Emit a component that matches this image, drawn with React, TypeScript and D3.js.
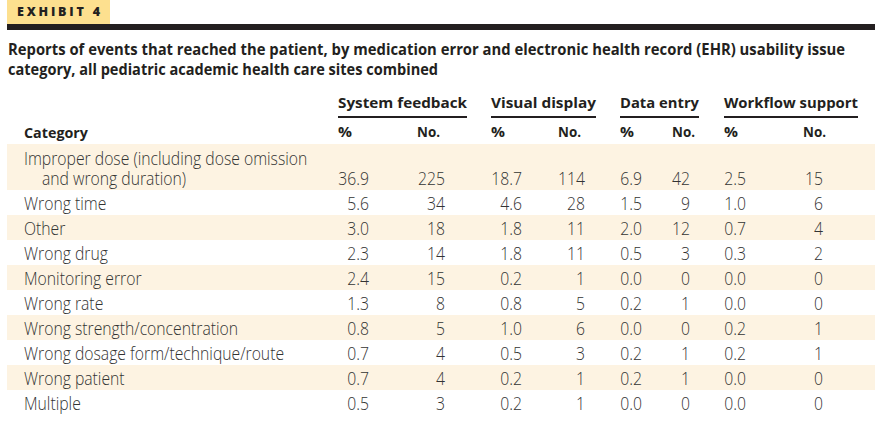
import React from "react";
import * as d3 from "d3";

const categories: string[][] = [
  ["Improper dose (including dose omission", "and wrong duration)"],
  ["Wrong time"],
  ["Other"],
  ["Wrong drug"],
  ["Monitoring error"],
  ["Wrong rate"],
  ["Wrong strength/concentration"],
  ["Wrong dosage form/technique/route"],
  ["Wrong patient"],
  ["Multiple"],
];
const groups = ["System feedback", "Visual display", "Data entry", "Workflow support"];
const sysPct = [36.9, 5.6, 3.0, 2.3, 2.4, 1.3, 0.8, 0.7, 0.7, 0.5];
const sysNo = [225, 34, 18, 14, 15, 8, 5, 4, 4, 3];
const visPct = [18.7, 4.6, 1.8, 1.8, 0.2, 0.8, 1.0, 0.5, 0.2, 0.2];
const visNo = [114, 28, 11, 11, 1, 5, 6, 3, 1, 1];
const dataPct = [6.9, 1.5, 2.0, 0.5, 0.0, 0.2, 0.0, 0.2, 0.2, 0.0];
const dataNo = [42, 9, 12, 3, 0, 1, 0, 1, 1, 0];
const wfPct = [2.5, 1.0, 0.7, 0.3, 0.0, 0.0, 0.2, 0.2, 0.0, 0.0];
const wfNo = [15, 6, 4, 2, 0, 0, 1, 1, 0, 0];

const titleLines = [
  "Reports of events that reached the patient, by medication error and electronic health record (EHR) usability issue",
  "category, all pediatric academic health care sites combined",
];

// layout (not data)
const W = 879, H = 430;
const groupLayout = [
  { x0: 338, x1: 467, pctX: 338, noX: 417, pctR: 369, noR: 445 },
  { x0: 491, x1: 596, pctX: 491, noX: 558, pctR: 522, noR: 585 },
  { x0: 620, x1: 699, pctX: 620, noX: 672, pctR: 642, noR: 690 },
  { x0: 724, x1: 858, pctX: 724, noX: 803, pctR: 746, noR: 823 },
];

const BODY = "'Open Sans', 'Lato', sans-serif";
const BOLD = "'Open Sans', sans-serif";
const SX = 0.9;

export default function App() {
  const pctSeries = [sysPct, visPct, dataPct, wfPct];
  const noSeries = [sysNo, visNo, dataNo, wfNo];
  const lineCounts = categories.map((c) => c.length);
  const rowUnits = lineCounts.map((n) => 25 + (n - 1) * 21);
  const bottoms = Array.from(d3.cumsum(rowUnits));
  const tops = bottoms.map((b, i) => b - rowUnits[i]);
  const total = d3.sum(rowUnits);
  const y = d3.scaleLinear().domain([0, total]).range([144, 144 + total]);
  const fmt = d3.format(".1f");
  const textColor = "#333333";

  const T = (x: number, yy: number, s: string, anchor: string = "start", key?: any) => (
    <text key={key} transform={`translate(${x},${yy}) scale(${SX},1)`} textAnchor={anchor}>
      {s}
    </text>
  );

  return (
    <svg width={W} height={H} style={{ display: "block", position: "absolute", left: 0, top: 0 }}>
      <rect x={0} y={0} width={W} height={H} fill="#fff" />
      <rect x={7} y={0} width={103} height={24} fill="#fde08f" />
      <text x={17} y={15.5} fontFamily={BOLD} fontWeight={800} fontSize={12.5} fill="#231f20" textLength={83} lengthAdjust="spacing">
        EXHIBIT 4
      </text>
      <rect x={7} y={24} width={868} height={6} fill="#231f20" />
      {titleLines.map((t, i) => (
        <text
          key={i}
          x={8}
          y={55 + i * 20}
          fontFamily={BOLD}
          fontWeight={700}
          fontSize={16.5}
          fill="#231f20"
          textLength={i === 0 ? 837 : 430}
          lengthAdjust="spacingAndGlyphs"
        >
          {t}
        </text>
      ))}
      {categories.map((_, i) =>
        i % 2 === 0 ? (
          <rect key={i} x={7} y={y(tops[i])} width={868} height={y(bottoms[i]) - y(tops[i])} fill="#fdf3e2" />
        ) : null
      )}
      {groups.map((g, gi) => {
        const L = groupLayout[gi];
        return (
          <g key={g}>
            <text x={L.x0} y={108} fontFamily={BOLD} fontWeight={700} fontSize={15} fill="#231f20" textLength={L.x1 - L.x0} lengthAdjust="spacingAndGlyphs">
              {g}
            </text>
            <line x1={L.x0} x2={L.x1} y1={117} y2={117} stroke="#231f20" strokeWidth={2} />
            <text x={L.pctX} y={137} fontFamily={BOLD} fontWeight={700} fontSize={14.5} fill="#231f20" textLength={14} lengthAdjust="spacingAndGlyphs">%</text>
            <text x={L.noX} y={137} fontFamily={BOLD} fontWeight={700} fontSize={14.5} fill="#231f20" textLength={23} lengthAdjust="spacingAndGlyphs">No.</text>
          </g>
        );
      })}
      <text x={24} y={138} fontFamily={BOLD} fontWeight={700} fontSize={15} fill="#231f20" textLength={64} lengthAdjust="spacingAndGlyphs">
        Category
      </text>
      {categories.map((lines, i) => {
        const base = y(bottoms[i]) - 5;
        return (
          <g key={i} fontFamily={BODY} fontWeight={300} fontSize={17.5} fill={textColor}>
            {lines.map((ln, li) => T(li === 0 ? 24 : 42, base - (lines.length - 1 - li) * 20, ln, "start", "l" + li))}
            {groupLayout.map((L, gi) => (
              <g key={gi}>
                {T(L.pctR, base, fmt(pctSeries[gi][i]), "end")}
                {T(L.noR, base, String(noSeries[gi][i]), "end")}
              </g>
            ))}
          </g>
        );
      })}
    </svg>
  );
}
